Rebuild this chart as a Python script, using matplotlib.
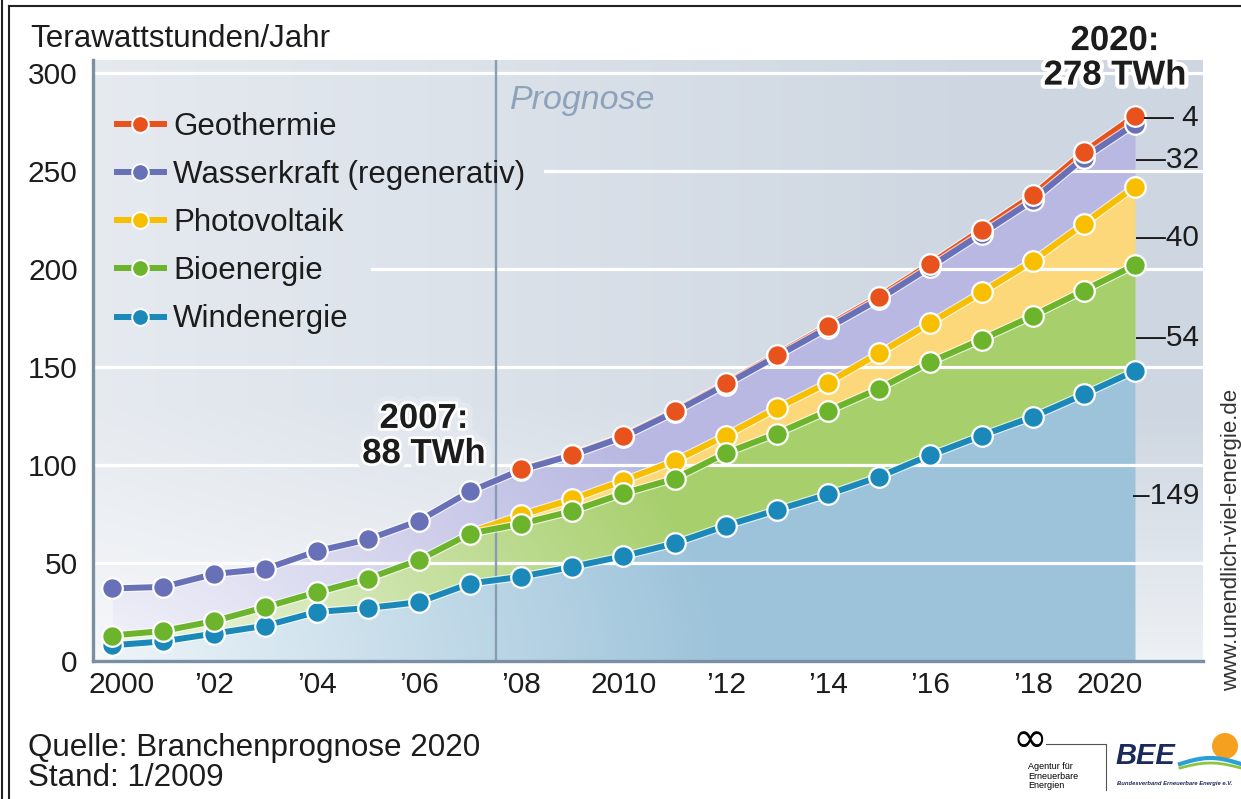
import numpy as np
import matplotlib
matplotlib.use("Agg")
import matplotlib.pyplot as plt
from matplotlib import patheffects as pe
from matplotlib.lines import Line2D
from matplotlib.patches import Polygon, Ellipse
import matplotlib.transforms as mtransforms

# ---------------- data (TWh per year, stacked contributions) ----------------
years = [2000, 2001, 2002, 2003, 2004, 2005, 2006, 2007, 2008, 2009, 2010,
         2011, 2012, 2013, 2014, 2015, 2016, 2017, 2018, 2019, 2020]
wind = [8, 10, 14, 18, 25, 27, 30, 39.5, 43, 48, 53.5,
        60, 69, 77, 85, 94, 105, 115, 124.5, 136, 148]
bio = [5, 5.3, 6.4, 9.5, 10, 15, 21.5, 25.5, 27, 28.5, 32,
       33, 37, 39, 42.5, 45, 47.5, 49, 51.5, 53, 54]
pv = [0, 0, 0, 0, 0, 0, 0, 0.5, 4.5, 6, 6.5,
      9, 9, 13, 14.5, 18, 20, 24, 28, 34, 40]
hydro = [24, 22.5, 24, 19.5, 21, 20, 20, 21, 23, 22.5, 22.3,
         25, 26, 26.5, 28, 27.7, 28.6, 30, 31, 33.6, 32]
geo = [0, 0, 0, 0, 0, 0, 0, 0, 0.2, 0.3, 0.4,
       0.5, 0.6, 0.8, 1.0, 1.2, 1.5, 2.0, 2.5, 3.0, 4.0]

labels = ["Geothermie", "Wasserkraft (regenerativ)", "Photovoltaik",
          "Bioenergie", "Windenergie"]
xtick_pos = [2000, 2002, 2004, 2006, 2008, 2010, 2012, 2014, 2016, 2018, 2020]
xtick_lab = ["2000", "\u201902", "\u201904", "\u201906", "\u201908", "2010",
             "\u201912", "\u201914", "\u201916", "\u201918", "2020"]
ytick_pos = [0, 50, 100, 150, 200, 250, 300]
end_labels = ["\u2014 4", "\u201432", "\u201440", "\u201454", "\u2013149"]
end_label_y = [277, 255.5, 216, 165, 84]

# ---------------- style ----------------
plt.rcParams['font.family'] = ['Liberation Sans', 'DejaVu Sans']
C_GEO, C_HYD, C_PV, C_BIO, C_WIND = '#e8521c', '#6870b7', '#f7bf00', '#6cb42c', '#1a89ba'
F_GEO, F_HYD, F_PV, F_BIO, F_WIND = '#f2a27a', '#b8b8e2', '#fcd87a', '#a7cf6c', '#9cc3da'
TXT = '#1c1c1c'

W, H = 1241, 799
fig = plt.figure(figsize=(W / 100, H / 100), dpi=100)
fig.patch.set_facecolor('white')

XL, XR = 1999.63, 2021.33
YT = 306.6
ax = fig.add_axes([93 / W, 1 - 661 / H, (1203 - 93) / W, (661 - 60) / H])
ax.set_facecolor('#cdd6e1')

x = np.array(years, dtype=float)
c_wind = np.array(wind)
c_bio = c_wind + np.array(bio)
c_pv = c_bio + np.array(pv)
c_hyd = c_pv + np.array(hydro)
c_geo = c_hyd + np.array(geo)

# background gradient (white overlay)
gx = np.linspace(XL, XR, 400)
gy = np.linspace(0, YT, 300)
GX, GY = np.meshgrid(gx, gy)
a_x = 0.5 * np.clip(1 - (GX - 1999.6) / 18, 0, 1)
a_y = 0.65 * np.clip(1 - GY / 130, 0, 1)
a_bg = 1 - (1 - a_x) * (1 - a_y)
img = np.ones((300, 400, 4))
img[..., 3] = a_bg
ax.imshow(img, extent=[XL, XR, 0, YT], origin='lower', aspect='auto',
          zorder=0.2, interpolation='bilinear')

# stacked fills
ax.fill_between(x, 0, c_wind, color=F_WIND, lw=0, zorder=1)
ax.fill_between(x, c_wind, c_bio, color=F_BIO, lw=0, zorder=1)
ax.fill_between(x, c_bio, c_pv, color=F_PV, lw=0, zorder=1)
ax.fill_between(x, c_pv, c_hyd, color=F_HYD, lw=0, zorder=1)
ax.fill_between(x, c_hyd, c_geo, color=F_GEO, lw=0, zorder=1)

# white glow over fills toward the lower left
verts = [(x[0], 0)] + list(zip(x, c_geo)) + [(x[-1], 0)]
clip_poly = Polygon(verts, closed=True, fc='none', ec='none', transform=ax.transData)
ax.add_patch(clip_poly)
a_f = 0.85 * np.clip(1 - np.sqrt(((GX - 1999.6) / 12.5) ** 2 + (GY / 200) ** 2), 0, 1)
img2 = np.ones((300, 400, 4))
img2[..., 3] = a_f
im2 = ax.imshow(img2, extent=[XL, XR, 0, YT], origin='lower', aspect='auto',
                zorder=1.5, interpolation='bilinear')
im2.set_clip_path(clip_poly)

# gridlines
ax_w = 1203 - 93
grid_start = {200: (372 - 93) / ax_w, 250: (545 - 93) / ax_w}
for v in ytick_pos[1:]:
    ax.axhline(v, xmin=grid_start.get(v, 0), xmax=1, color='white', lw=2.3, zorder=2)

# forecast divider
ax.axvline(2007.5, color='#8a9cb1', lw=1.7, zorder=2.1)
ax.text(2007.79, 286, "Prognose", style='italic', fontsize=24.5, color='#8ea3ba',
        va='center', ha='left', zorder=2.2)

# lines then markers
halo = [pe.Stroke(linewidth=6.0, foreground='white', alpha=0.7), pe.Normal()]
LW, MS = 4.3, 14.8
series = [
    (x[8:], c_geo[8:], x[8:], c_geo[8:], C_GEO, 3.0, 4.5),
    (x, c_wind, x, c_wind, C_WIND, 3.1, 4.1),
    (x[7:], c_pv[7:], x[8:], c_pv[8:], C_PV, 3.2, 4.2),
    (x, c_bio, x, c_bio, C_BIO, 3.3, 4.3),
    (x, c_hyd, x, c_hyd, C_HYD, 3.4, 4.4),
]
for lx, ly, mx, my, col, zl, zm in series:
    ax.plot(lx, ly, color=col, lw=LW, zorder=zl, solid_capstyle='round',
            solid_joinstyle='round', path_effects=halo)
    ax.plot(mx, my, ls='none', marker='o', ms=MS, mfc=col, mec='white', mew=1.6, zorder=zm)

# legend
handles = [Line2D([0], [0], color=c, lw=LW, marker='o', ms=12, mfc=c, mec='white', mew=1.4)
           for c in [C_GEO, C_HYD, C_PV, C_BIO, C_WIND]]
leg = ax.legend(handles, labels, loc='upper left', bbox_to_anchor=(24 / ax_w, 1 - 52 / 601),
                frameon=False, fontsize=22.5, handlelength=1.5, handletextpad=0.3,
                labelspacing=0.58, borderaxespad=0, borderpad=0)
for t in leg.get_texts():
    t.set_color(TXT)
leg.set_zorder(6)

# annotations
ax.text(2006.1, 114.8, "2007:\n88 TWh", ha='center', va='center', fontsize=25,
        fontweight='bold', color=TXT, linespacing=1.08, zorder=6,
        path_effects=[pe.withStroke(linewidth=11, foreground='#e3e8ee'),
                      pe.withStroke(linewidth=4, foreground='white')])
ax.text(2019.61, 307.7, "2020:\n278 TWh", ha='center', va='center', fontsize=25,
        fontweight='bold', color=TXT, linespacing=1.06, zorder=6, clip_on=False,
        path_effects=[pe.withStroke(linewidth=6, foreground='white')])
for s, yv in zip(end_labels, end_label_y):
    ax.text(2021.25, yv, s, ha='right', va='center', fontsize=21.5, color=TXT, zorder=6)

# axes cosmetics
ax.set_xlim(XL, XR)
ax.set_ylim(0, YT)
ax.set_xticks(xtick_pos)
ax.set_xticklabels(xtick_lab)
ax.set_yticks(ytick_pos)
ax.tick_params(axis='both', length=0, labelsize=21.5, labelcolor=TXT)
ax.tick_params(axis='x', pad=7)
ax.tick_params(axis='y', pad=11)
xl = ax.get_xticklabels()
xl[0].set_transform(xl[0].get_transform() + mtransforms.ScaledTranslation(10 / 100, 0, fig.dpi_scale_trans))
xl[-1].set_transform(xl[-1].get_transform() + mtransforms.ScaledTranslation(-25 / 100, 0, fig.dpi_scale_trans))
for side in ['top', 'right']:
    ax.spines[side].set_visible(False)
for side in ['left', 'bottom']:
    ax.spines[side].set_color('#7b8fa4')
    ax.spines[side].set_linewidth(2.4)
    ax.spines[side].set_zorder(7)

# figure texts
fig.text(30 / W, 1 - 47 / H, "Terawattstunden/Jahr", fontsize=22.6, color=TXT, va='baseline')
fig.text(28 / W, 1 - 756 / H, "Quelle: Branchenprognose 2020", fontsize=22.6, color=TXT, va='baseline')
fig.text(28 / W, 1 - 786 / H, "Stand: 1/2009", fontsize=22.6, color=TXT, va='baseline')
fig.text(1232 / W, 1 - 540 / H, "www.unendlich-viel-energie.de", rotation=90, fontsize=16,
         color='#333333', ha='center', va='center')

# logos (approximations)
fig.text(1030 / W, 1 - 740 / H, "\u221e", fontsize=30, color='black', ha='center', va='center',
         family=['DejaVu Sans'])
fig.add_artist(Line2D([1046 / W, 1106 / W, 1106 / W], [1 - 744 / H, 1 - 744 / H, 1 - 790 / H],
                      color='#555555', lw=0.8))
fig.text(1028 / W, 1 - 788 / H, "Agentur f\u00fcr\nErneuerbare\nEnergien", fontsize=6.5,
         color='black', va='baseline', linespacing=1.05)
fig.text(1115 / W, 1 - 764 / H, "BEE", fontsize=21, fontweight='bold', style='italic',
         color='#1b2a5c', va='baseline')
fig.text(1117 / W, 1 - 785 / H, "Bundesverband Erneuerbare Energie e.V.", fontsize=4.2,
         fontweight='bold', style='italic', color='#1b2a5c', va='baseline')
sun = Ellipse((1225 / W, 1 - 746 / H), 26 / W, 26 / H, transform=fig.transFigure,
              fc='#f5a01e', ec='none')
fig.add_artist(sun)
wx = np.linspace(1180, 1241, 50)
fig.add_artist(Line2D(wx / W, 1 - (764 - 6 * np.sin((wx - 1180) / 61 * np.pi)) / H,
                      color='#2aa0d8', lw=3))
fig.add_artist(Line2D(wx / W, 1 - (768 - 5 * np.sin((wx - 1180) / 61 * np.pi)) / H,
                      color='#8cc63f', lw=2))

# outer border
fig.add_artist(Line2D([2.5 / W, 2.5 / W], [0, 1], color='#222222', lw=1.5))
fig.add_artist(Line2D([9 / W, 9 / W], [0, 1 - 6 / H], color='#222222', lw=1.5))
fig.add_artist(Line2D([9 / W, 1], [1 - 6 / H, 1 - 6 / H], color='#222222', lw=1.5))

fig.savefig("out.png", dpi=100)
